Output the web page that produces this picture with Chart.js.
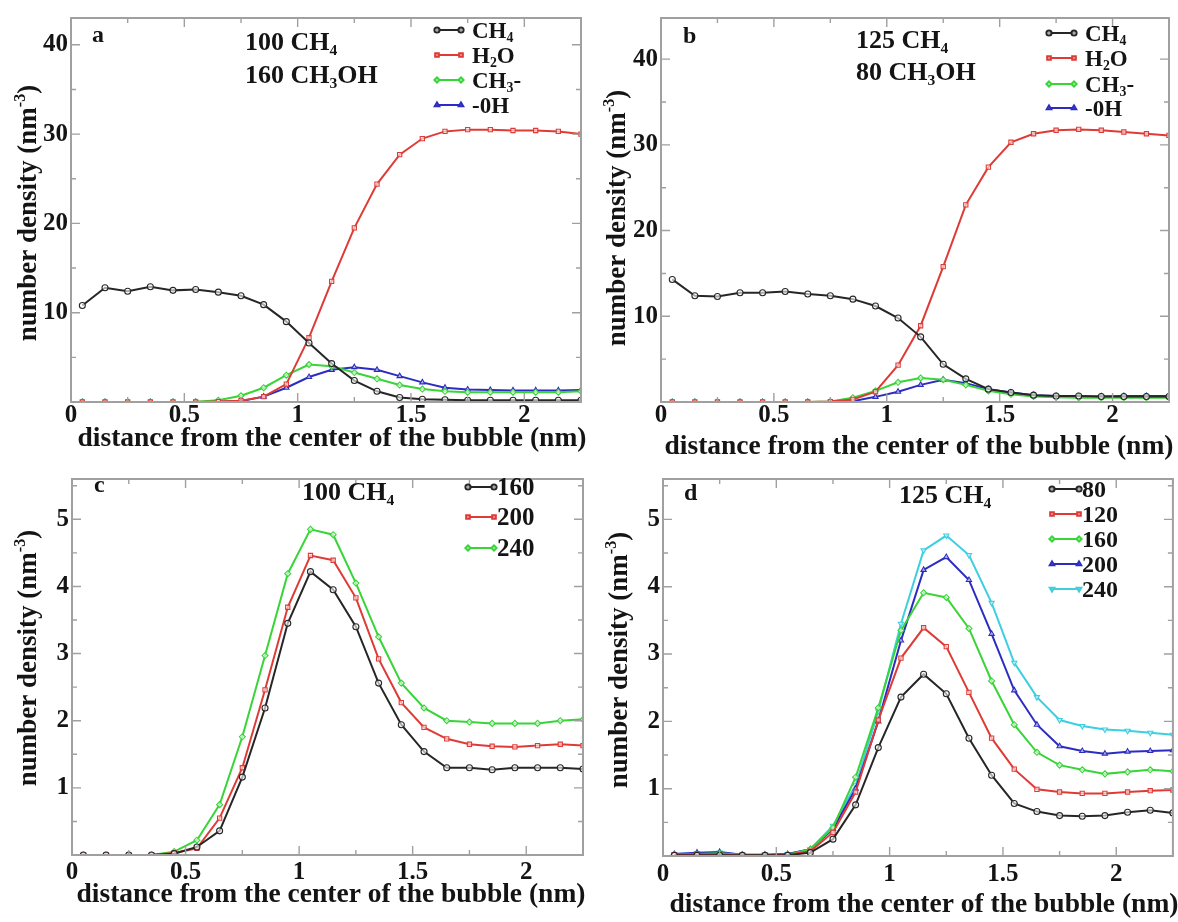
<!DOCTYPE html>
<html>
<head>
<meta charset="utf-8">
<script src="https://cdn.jsdelivr.net/npm/chart.js@4.4.1/dist/chart.umd.min.js"></script>
<style>
  html, body { margin: 0; padding: 0; background: #ffffff; }
  #wrap { position: relative; width: 1178px; height: 922px; overflow: hidden; background: #ffffff; }
  .pane { position: absolute; width: 589px; height: 461px; }
  .pane canvas { display: block; }
</style>
</head>
<body>
<div id="wrap">
  <div class="pane" style="left:0;top:0"><canvas id="pa" width="589" height="461"></canvas></div>
  <div class="pane" style="left:589px;top:0"><canvas id="pb" width="589" height="461"></canvas></div>
  <div class="pane" style="left:0;top:461px"><canvas id="pc" width="589" height="461"></canvas></div>
  <div class="pane" style="left:589px;top:461px"><canvas id="pd" width="589" height="461"></canvas></div>
</div>
<script>
// Radial distance of each bin from the bubble centre (nm)
const distance = [0.05, 0.15, 0.25, 0.35, 0.45, 0.55, 0.65, 0.75, 0.85, 0.95, 1.05, 1.15,
                  1.25, 1.35, 1.45, 1.55, 1.65, 1.75, 1.85, 1.95, 2.05, 2.15, 2.25];

// Tick labels
const xTicks = [0, 0.5, 1, 1.5, 2];
const yTicksTop = [10, 20, 30, 40];
const yTicksBottom = [1, 2, 3, 4, 5];

// (a) 100 CH4 + 160 CH3OH : density profiles (nm^-3)
const aCH4 = [10.8, 12.8, 12.4, 12.9, 12.5, 12.6, 12.3, 11.9, 10.9, 9.0, 6.6, 4.3, 2.4, 1.2, 0.5, 0.3, 0.25, 0.2, 0.2, 0.2, 0.2, 0.2, 0.2];
const aH2O = [0, 0, 0, 0, 0, 0, 0.05, 0.15, 0.6, 2.0, 7.2, 13.5, 19.5, 24.4, 27.7, 29.5, 30.3, 30.5, 30.5, 30.4, 30.4, 30.3, 30.0];
const aCH3 = [0, 0, 0, 0, 0, 0.02, 0.2, 0.7, 1.6, 3.0, 4.2, 4.0, 3.3, 2.6, 1.9, 1.45, 1.2, 1.1, 1.1, 1.1, 1.1, 1.1, 1.2];
const aOH  = [0, 0, 0, 0, 0, 0, 0.02, 0.1, 0.6, 1.6, 2.8, 3.6, 3.9, 3.6, 2.9, 2.2, 1.6, 1.4, 1.35, 1.3, 1.3, 1.3, 1.35];

// (b) 125 CH4 + 80 CH3OH
const bCH4 = [14.3, 12.4, 12.3, 12.75, 12.75, 12.9, 12.6, 12.4, 12.0, 11.2, 9.8, 7.6, 4.4, 2.7, 1.5, 1.1, 0.8, 0.7, 0.7, 0.65, 0.65, 0.65, 0.65];
const bH2O = [0, 0, 0, 0, 0, 0, 0, 0.05, 0.3, 1.2, 4.3, 8.9, 15.8, 23.0, 27.4, 30.3, 31.3, 31.7, 31.8, 31.7, 31.5, 31.3, 31.1];
const bCH3 = [0, 0, 0, 0, 0, 0, 0, 0.05, 0.5, 1.3, 2.3, 2.8, 2.6, 2.0, 1.3, 0.9, 0.65, 0.55, 0.5, 0.5, 0.5, 0.5, 0.5];
const bOH  = [0, 0, 0, 0, 0, 0, 0, 0, 0.1, 0.6, 1.2, 2.0, 2.6, 2.2, 1.5, 1.1, 0.8, 0.7, 0.65, 0.65, 0.7, 0.7, 0.7];

// (c) 100 CH4, CH3OH count 160 / 200 / 240
const c160 = [0, 0, 0, 0, 0.02, 0.12, 0.36, 1.16, 2.19, 3.45, 4.22, 3.95, 3.4, 2.56, 1.94, 1.54, 1.3, 1.3, 1.27, 1.3, 1.3, 1.3, 1.28];
const c200 = [0, 0, 0, 0, 0.03, 0.1, 0.55, 1.3, 2.46, 3.69, 4.46, 4.39, 3.83, 2.92, 2.27, 1.9, 1.73, 1.65, 1.62, 1.61, 1.63, 1.65, 1.63];
const c240 = [0, 0, 0, 0, 0.05, 0.22, 0.75, 1.76, 2.97, 4.19, 4.85, 4.77, 4.05, 3.25, 2.56, 2.19, 2.0, 1.98, 1.96, 1.96, 1.96, 2.0, 2.02];

// (d) 125 CH4, CH3OH count 80 / 120 / 160 / 200 / 240
const d80  = [0.01, 0.01, 0.01, 0.01, 0.01, 0.01, 0.05, 0.25, 0.76, 1.61, 2.36, 2.7, 2.41, 1.75, 1.2, 0.78, 0.66, 0.6, 0.59, 0.6, 0.65, 0.68, 0.64];
const d120 = [0.02, 0.03, 0.03, 0.01, 0.01, 0.02, 0.07, 0.35, 0.95, 2.02, 2.94, 3.39, 3.11, 2.43, 1.75, 1.29, 0.99, 0.95, 0.93, 0.93, 0.95, 0.97, 0.98];
const d160 = [0.02, 0.03, 0.04, 0.02, 0.01, 0.02, 0.1, 0.42, 1.17, 2.2, 3.35, 3.91, 3.84, 3.38, 2.6, 1.95, 1.54, 1.35, 1.28, 1.22, 1.25, 1.28, 1.26];
const d200 = [0.03, 0.05, 0.06, 0.02, 0.02, 0.03, 0.1, 0.4, 1.0, 2.0, 3.2, 4.25, 4.44, 4.1, 3.3, 2.46, 1.95, 1.63, 1.56, 1.52, 1.55, 1.56, 1.57];
const d240 = [0.03, 0.04, 0.05, 0.02, 0.02, 0.03, 0.1, 0.45, 1.05, 2.15, 3.45, 4.54, 4.76, 4.47, 3.76, 2.87, 2.36, 2.02, 1.93, 1.88, 1.86, 1.83, 1.8];

// Series names (_{} = subscript)
const namesSpecies = ['CH_{4}', 'H_{2}O', 'CH_{3}-', '-0H'];
const namesC = ['160', '200', '240'];
const namesD = ['80', '120', '160', '200', '240'];

// ---- styling ----
const FONT = '"Liberation Serif", "Times New Roman", serif';
const INK = '#141414';
const FRAME = '#a0a0a0';
const COLORS = ['#262626', '#de3b36', '#38d438', '#2c2cc0', '#3ccfe0'];
const MARKERS = [
  { style: 'circle', rot: 0 },
  { style: 'rect', rot: 0 },
  { style: 'rectRot', rot: 0 },
  { style: 'triangle', rot: 0 },
  { style: 'triangle', rot: 180 }
];
const W = 589, H = 461;

function parseRich(s) {
  const parts = [];
  let buf = '', i = 0;
  while (i < s.length) {
    const ch = s[i];
    if ((ch === '_' || ch === '^') && s[i + 1] === '{') {
      if (buf) { parts.push({ t: buf, m: 0 }); buf = ''; }
      const end = s.indexOf('}', i);
      parts.push({ t: s.slice(i + 2, end), m: ch === '_' ? 1 : -1 });
      i = end + 1;
    } else { buf += ch; i++; }
  }
  if (buf) parts.push({ t: buf, m: 0 });
  return parts;
}

function drawRich(ctx, s, x, y, size, align) {
  const parts = parseRich(s);
  let total = 0;
  parts.forEach(p => {
    p.size = p.m ? size * 0.6 : size;
    ctx.font = 'bold ' + p.size + 'px ' + FONT;
    p.w = ctx.measureText(p.t).width;
    total += p.w;
  });
  let cx = align === 'center' ? x - total / 2 : x;
  ctx.textAlign = 'left';
  ctx.textBaseline = 'alphabetic';
  parts.forEach(p => {
    ctx.font = 'bold ' + p.size + 'px ' + FONT;
    const dy = p.m === 1 ? size * 0.2 : (p.m === -1 ? -size * 0.42 : 0);
    ctx.fillText(p.t, cx, y + dy);
    cx += p.w;
  });
}

function markerOpts(k, r) {
  return { pointStyle: MARKERS[k].style, rotation: MARKERS[k].rot, radius: r, borderWidth: 1.1 };
}

// Frame, inward ticks on all four sides, titles, notes and legend
function decorPlugin(spec) {
  return {
    id: 'decor' + spec.letter,
    afterDatasetsDraw(chart) {
      const ctx = chart.ctx;
      const { left, right, top, bottom } = chart.chartArea;
      const xs = chart.scales.x, ys = chart.scales.y;
      ctx.save();
      ctx.strokeStyle = FRAME;
      ctx.lineWidth = 1.4;
      const nx = Math.round(xs.max / 0.25);
      for (let i = 1; i <= nx; i++) {
        const v = i * 0.25;
        const px = xs.getPixelForValue(v);
        const len = i % 2 === 0 ? 9 : 5;
        ctx.beginPath();
        ctx.moveTo(px, bottom); ctx.lineTo(px, bottom - len);
        ctx.moveTo(px, top); ctx.lineTo(px, top + len);
        ctx.stroke();
      }
      const ny = Math.floor(ys.max / spec.yMinor + 1e-6);
      for (let i = 1; i <= ny; i++) {
        const v = i * spec.yMinor;
        const py = ys.getPixelForValue(v);
        const len = i % 2 === 0 ? 9 : 5;
        ctx.beginPath();
        ctx.moveTo(left, py); ctx.lineTo(left + len, py);
        ctx.moveTo(right, py); ctx.lineTo(right - len, py);
        ctx.stroke();
      }
      ctx.lineWidth = 2;
      ctx.strokeRect(left, top, right - left, bottom - top);
      ctx.restore();
    },
    afterDraw(chart) {
      const ctx = chart.ctx;
      ctx.save();
      ctx.fillStyle = INK;
      // axis titles
      drawRich(ctx, 'distance from the center of the bubble (nm)', spec.xTitle.x, spec.xTitle.y, 27.5, 'center');
      ctx.save();
      ctx.translate(spec.yTitle.x + 27 * 0.34, spec.yTitle.y);
      ctx.rotate(-Math.PI / 2);
      drawRich(ctx, 'number density (nm^{-3})', 0, 0, 27, 'center');
      ctx.restore();
      // panel letter and composition notes
      drawRich(ctx, spec.letter, spec.letterPos.x, spec.letterPos.y, 24, 'left');
      spec.notes.forEach(n => drawRich(ctx, n.t, n.x, n.y, 26, 'left'));
      // legend
      const lg = spec.legend;
      chart.data.datasets.forEach((ds, k) => {
        const yc = lg.rows[k];
        ctx.strokeStyle = ds.borderColor;
        ctx.lineWidth = 2;
        ctx.beginPath();
        ctx.moveTo(lg.x0, yc); ctx.lineTo(lg.x1, yc);
        ctx.stroke();
        if (Chart.helpers && Chart.helpers.drawPoint) {
          ctx.fillStyle = 'rgba(255,255,255,0.6)';
          Chart.helpers.drawPoint(ctx, markerOpts(k, 2.6), lg.x0 + 1, yc);
          Chart.helpers.drawPoint(ctx, markerOpts(k, 2.6), lg.x1 - 1, yc);
        }
        ctx.fillStyle = INK;
        drawRich(ctx, ds.label, lg.tx, yc + lg.size * 0.33, lg.size, 'left');
      });
      ctx.restore();
    }
  };
}

const panels = [
  {
    canvas: 'pa', letter: 'a', area: { left: 71, top: 15, right: 581, bottom: 402 },
    ymax: 43, yTicks: yTicksTop, yMinor: 5, xPad: -1,
    series: [aCH4, aH2O, aCH3, aOH], names: namesSpecies, colorIdx: [0, 1, 2, 3],
    letterPos: { x: 92, y: 42 },
    notes: [{ t: '100 CH_{4}', x: 245, y: 50 }, { t: '160 CH_{3}OH', x: 245, y: 83 }],
    legend: { x0: 436, x1: 462, tx: 472, rows: [30, 55, 80, 105], size: 23 },
    xTitle: { x: 332, y: 446 }, yTitle: { x: 27, y: 213 }
  },
  {
    canvas: 'pb', letter: 'b', area: { left: 72, top: 17, right: 580, bottom: 402 },
    ymax: 44.8, yTicks: yTicksTop, yMinor: 5, xPad: -1,
    series: [bCH4, bH2O, bCH3, bOH], names: namesSpecies, colorIdx: [0, 1, 2, 3],
    letterPos: { x: 94, y: 43 },
    notes: [{ t: '125 CH_{4}', x: 267, y: 48 }, { t: '80 CH_{3}OH', x: 267, y: 80 }],
    legend: { x0: 459, x1: 486, tx: 496, rows: [33, 58, 84, 108], size: 23 },
    xTitle: { x: 330, y: 454 }, yTitle: { x: 27, y: 218 }
  },
  {
    canvas: 'pc', letter: 'c', area: { left: 72, top: 5, right: 583, bottom: 394 },
    ymax: 5.6, yTicks: yTicksBottom, yMinor: 0.5, xPad: 3,
    series: [c160, c200, c240], names: namesC, colorIdx: [0, 1, 2],
    letterPos: { x: 94, y: 31 },
    notes: [{ t: '100 CH_{4}', x: 302, y: 39 }],
    legend: { x0: 467, x1: 495, tx: 497, rows: [26, 56, 87], size: 25 },
    xTitle: { x: 331, y: 441 }, yTitle: { x: 27, y: 197 }
  },
  {
    canvas: 'pd', letter: 'd', area: { left: 74, top: 6, right: 584, bottom: 395 },
    ymax: 5.6, yTicks: yTicksBottom, yMinor: 0.5, xPad: 4,
    series: [d80, d120, d160, d200, d240], names: namesD, colorIdx: [0, 1, 2, 3, 4],
    letterPos: { x: 95, y: 39 },
    notes: [{ t: '125 CH_{4}', x: 310, y: 42 }],
    legend: { x0: 462, x1: 491, tx: 493, rows: [28, 53, 78, 103, 128], size: 24 },
    xTitle: { x: 335, y: 451 }, yTitle: { x: 29, y: 199 }
  }
];

const tickFont = { family: FONT, size: 25, weight: 'bold' };

panels.forEach(spec => {
  const datasets = spec.series.map((arr, k) => {
    const col = COLORS[spec.colorIdx[k]];
    return {
      label: spec.names[k],
      data: distance.map((x, i) => ({ x: x, y: arr[i] })),
      borderColor: col,
      borderWidth: 2,
      pointStyle: MARKERS[k].style,
      pointRotation: MARKERS[k].rot,
      pointRadius: 3,
      pointBorderWidth: 1.1,
      pointBorderColor: col,
      pointBackgroundColor: 'rgba(255,255,255,0.6)',
      tension: 0,
      fill: false
    };
  });

  new Chart(document.getElementById(spec.canvas), {
    type: 'line',
    data: { datasets: datasets },
    options: {
      responsive: false,
      animation: false,
      devicePixelRatio: 1,
      events: [],
      layout: { padding: { left: 0, top: spec.area.top, right: W - spec.area.right, bottom: 0 } },
      plugins: { legend: { display: false }, tooltip: { enabled: false } },
      scales: {
        x: {
          type: 'linear', min: 0, max: 2.25,
          grid: { display: false, drawTicks: false },
          border: { display: false },
          afterFit(s) { s.height = H - spec.area.bottom; },
          afterBuildTicks(s) { s.ticks = xTicks.map(v => ({ value: v })); },
          ticks: { font: tickFont, color: INK, padding: spec.xPad, maxRotation: 0, autoSkip: false,
                   callback: v => String(v) }
        },
        y: {
          type: 'linear', min: 0, max: spec.ymax,
          grid: { display: false, drawTicks: false },
          border: { display: false },
          afterFit(s) { s.width = spec.area.left; },
          afterBuildTicks(s) { s.ticks = spec.yTicks.map(v => ({ value: v })); },
          ticks: { font: tickFont, color: INK, padding: 3, autoSkip: false,
                   callback: v => String(v) }
        }
      }
    },
    plugins: [decorPlugin(spec)]
  });
});
</script>
</body>
</html>
